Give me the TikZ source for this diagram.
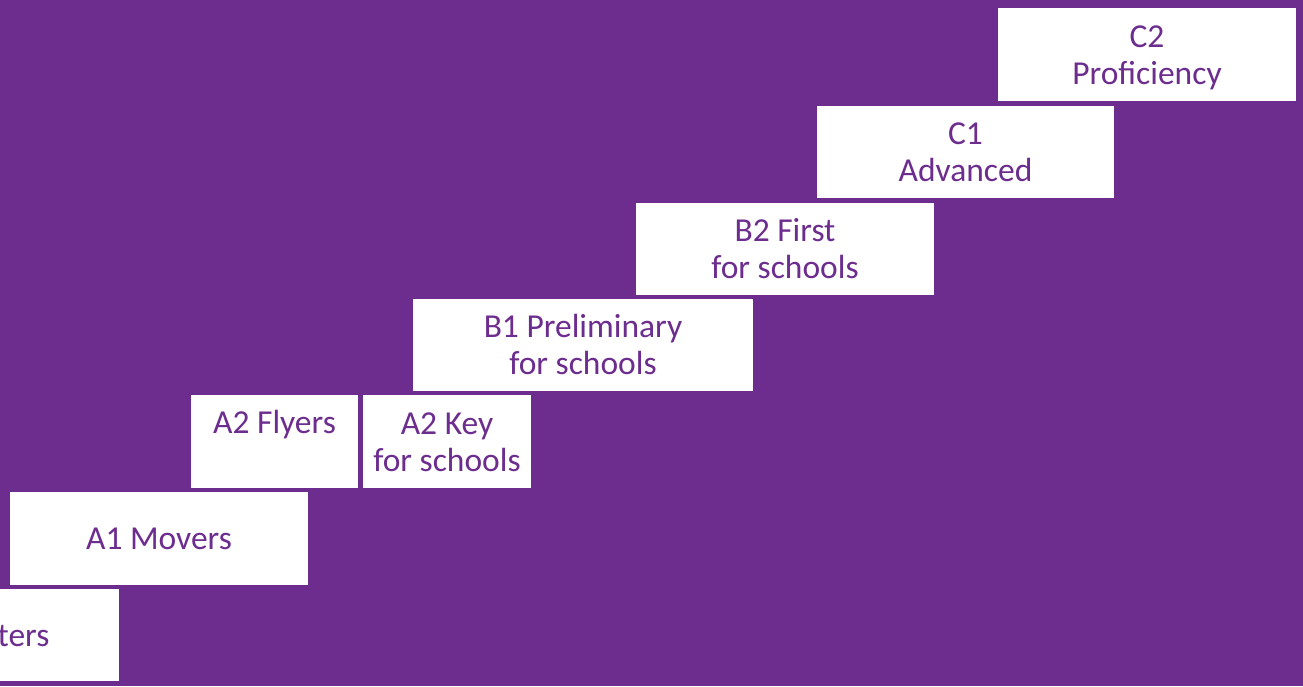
\documentclass[tikz,border=0pt]{standalone}
\usepackage{fontspec}
\setmainfont{Carlito}
\definecolor{cpurple}{RGB}{108,45,142}
\newcommand{\capline}[1]{\raisebox{0pt}[22pt][0pt]{#1}}
\tikzset{
  box/.style={fill=white, draw=none, inner sep=0pt, text=cpurple,
    font=\fontsize{33.5}{37}\selectfont, align=center},
}
\begin{document}
\begin{tikzpicture}[x=1pt, y=-1pt]
\fill[cpurple] (0,0) rectangle (1303,686);
\useasboundingbox (0,0) rectangle (1303,686);
\node[box, minimum width=298pt, minimum height=93pt] (c2) at (1147,54.5) {\capline{C2}\\\capline{Proficiency}};
\node[box, minimum width=297pt, minimum height=92pt] (c1) at (965.5,152) {\capline{C1}\\\capline{Advanced}};
\node[box, minimum width=298pt, minimum height=92pt] (b2) at (785,249) {\capline{B2 First}\\\capline{for schools}};
\node[box, minimum width=340pt, minimum height=92pt] (b1) at (583,345) {\capline{B1 Preliminary}\\\capline{for schools}};
\node[box, minimum width=168pt, minimum height=93pt] (a2k) at (447,441.5) {\capline{A2 Key}\\\capline{for schools}};
\node[box, minimum width=167pt, minimum height=93pt, text height=22pt, text depth=39pt] (a2f) at (274.5,441.5) {A2 Flyers};
\node[box, minimum width=298pt, minimum height=93pt, text height=22pt, text depth=0pt] (a1) at (159,538.5) {A1 Movers};
\node[box, minimum width=191pt, minimum height=92pt, text height=22pt, text depth=0pt] (st) at (23.5,635) {ters};
\end{tikzpicture}
\end{document}
